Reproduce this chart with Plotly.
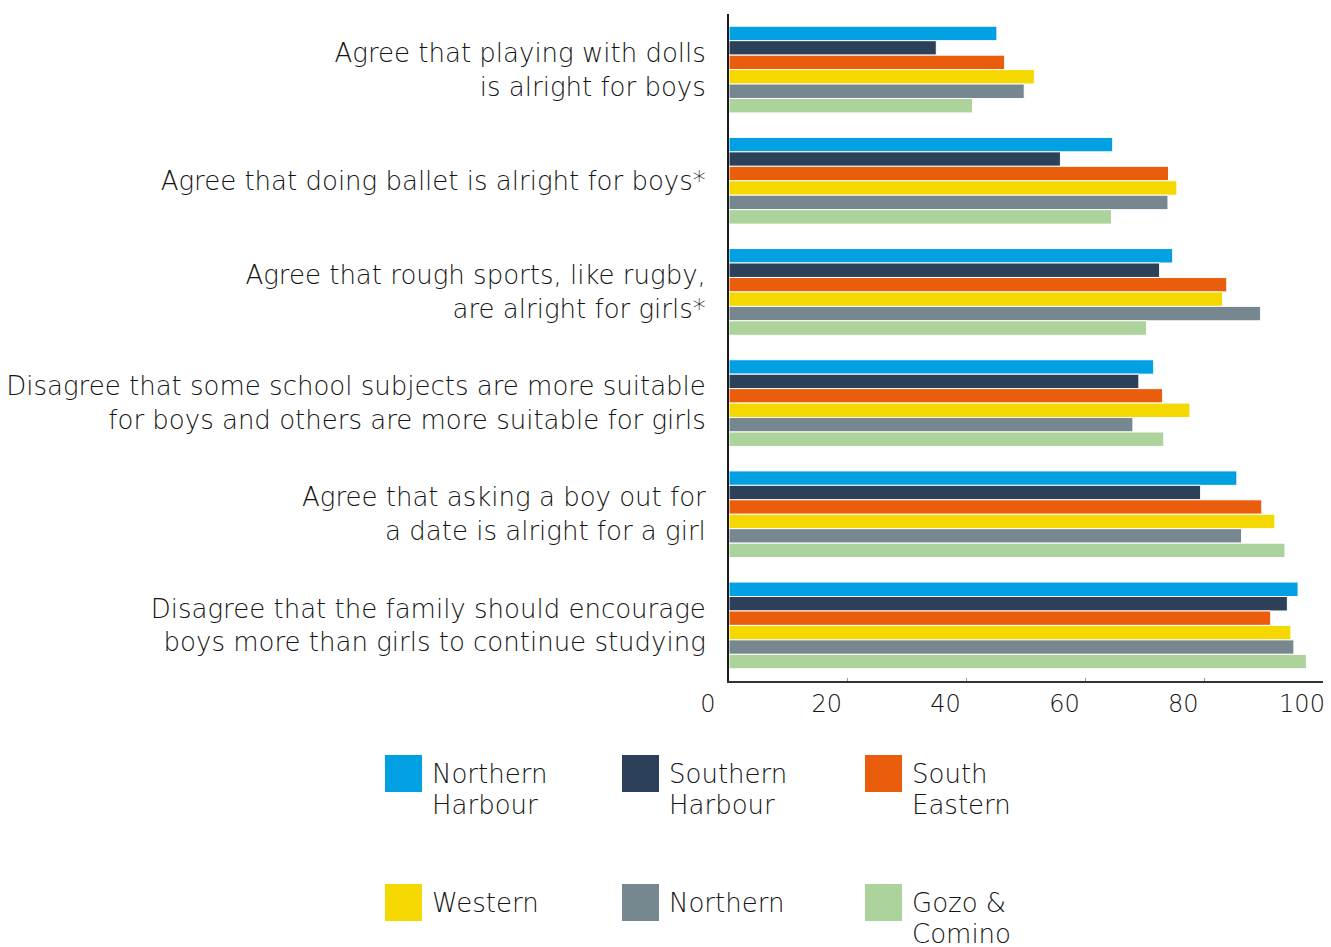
import plotly.graph_objects as go

categories = [
    "Agree that playing with dolls<br>is alright for boys",
    "Agree that doing ballet is alright for boys*",
    "Agree that rough sports, like rugby,<br>are alright for girls*",
    "Disagree that some school subjects are more suitable<br>for boys and others are more suitable for girls",
    "Agree that asking a boy out for<br>a date is alright for a girl",
    "Disagree that the family should encourage<br>boys more than girls to continue studying",
]

series_names = ["Northern Harbour", "Southern Harbour", "South Eastern",
                "Western", "Northern", "Gozo & Comino"]
legend_labels = [["Northern", "Harbour"], ["Southern", "Harbour"], ["South", "Eastern"],
                 ["Western"], ["Northern"], ["Gozo &", "Comino"]]

northern_harbour = [45.1, 64.6, 74.7, 71.5, 85.5, 95.8]
southern_harbour = [34.9, 55.8, 72.5, 69.0, 79.4, 94.0]
south_eastern = [46.4, 74.0, 83.8, 73.0, 89.7, 91.2]
western = [51.4, 75.4, 83.1, 77.6, 91.9, 94.6]
northern = [49.7, 73.9, 89.5, 68.0, 86.3, 95.1]
gozo_comino = [41.0, 64.4, 70.3, 73.2, 93.6, 97.2]

series_values = [northern_harbour, southern_harbour, south_eastern,
                 western, northern, gozo_comino]

x_ticks = [0, 20, 40, 60, 80, 100]

colors = ["#00A0E3", "#2C4159", "#E95D0C", "#F5D800", "#778790", "#ABD39B"]

FONT = "DejaVu Sans"
TXT = "#141414"
FS = 26
WT = 200
W, H = 1331, 947
L, T = 729, 14
R = W - 1323
B = H - 681
PW = W - L - R
PH = H - T - B

fig = go.Figure()
for name, vals, col in zip(series_names, series_values, colors):
    fig.add_trace(go.Bar(
        y=categories, x=vals, name=name, orientation="h",
        marker=dict(color=col, line=dict(color="white", width=1)),
        showlegend=False,
    ))


def px2x(px):
    return (px - L) / PW


def py2y(py):
    return (H - B - py) / PH


# custom legend with large swatches
col_x = [385, 622, 865]
row_y = [755, 884]
sw = 37
line_gap = 31
for i, (lines, col) in enumerate(zip(legend_labels, colors)):
    cx = col_x[i % 3]
    ry = row_y[i // 3]
    fig.add_shape(type="rect", xref="paper", yref="paper",
                  x0=px2x(cx), x1=px2x(cx + sw), y0=py2y(ry + sw), y1=py2y(ry),
                  fillcolor=col, line=dict(width=0), layer="above")
    for k, ln in enumerate(lines):
        fig.add_annotation(xref="paper", yref="paper", x=px2x(cx + 45),
                           y=py2y(ry + 19 + k * line_gap),
                           xanchor="left", yanchor="middle", align="left",
                           showarrow=False, text=ln,
                           font=dict(family=FONT, size=FS, color=TXT, weight=WT))

fig.update_layout(
    width=W, height=H,
    margin=dict(l=L, r=R, t=T, b=B, autoexpand=False),
    paper_bgcolor="white", plot_bgcolor="white",
    barmode="group", bargap=0.22, bargroupgap=0,
    font=dict(family=FONT, size=FS, color=TXT, weight=WT),
    xaxis=dict(range=[0, 100], tickvals=x_ticks, showgrid=False, zeroline=False,
               showline=True, linecolor="#333333", linewidth=1.5,
               ticks="inside", ticklen=3, tickcolor="#999999",
               ticklabelshift=-21, ticklabelstandoff=0,
               tickfont=dict(family=FONT, size=24, color=TXT, weight=WT)),
    yaxis=dict(autorange="reversed", showgrid=False, zeroline=False,
               showline=True, linecolor="#1a1a1a", linewidth=2,
               ticks="", ticklabelstandoff=16,
               tickfont=dict(family=FONT, size=FS, color=TXT, weight=WT)),
)

fig.write_html(
    "out.html",
    config={"displayModeBar": False},
    post_script="document.body.style.margin='0';document.body.style.overflow='hidden';",
)
